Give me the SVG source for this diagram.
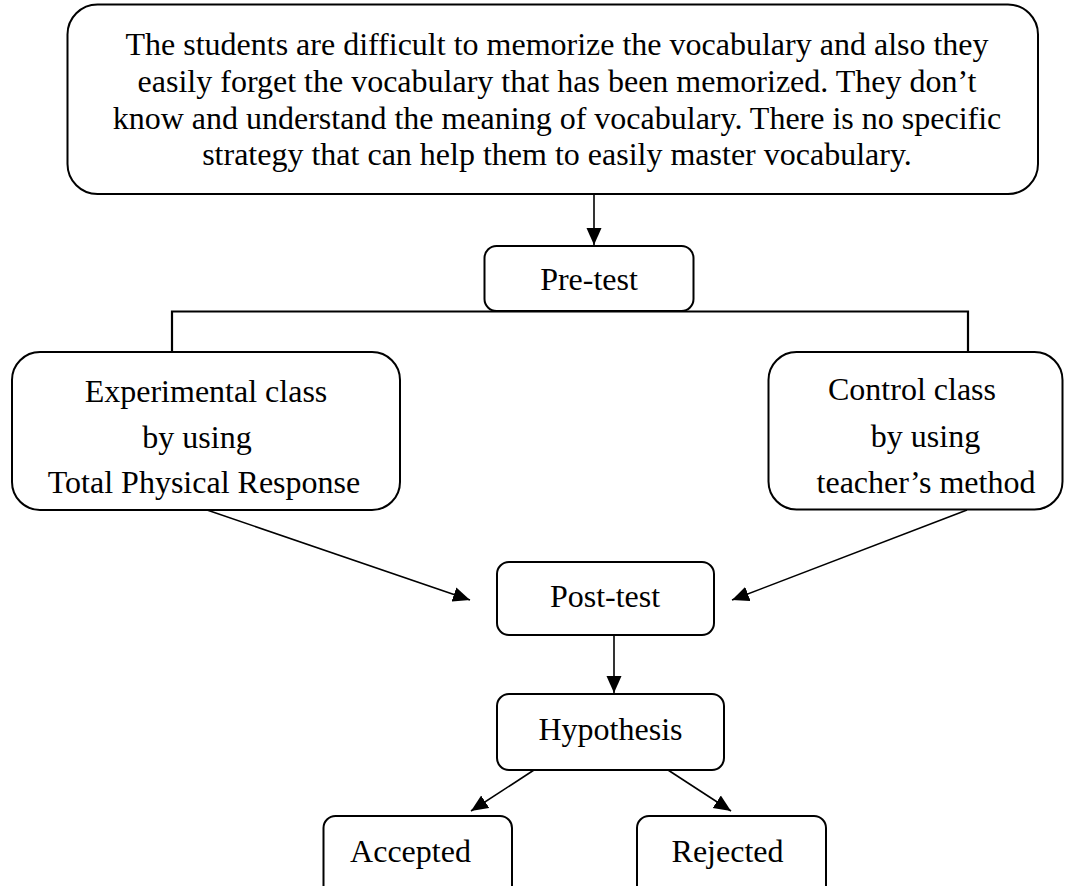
<svg xmlns="http://www.w3.org/2000/svg" width="1065" height="886" viewBox="0 0 1065 886">
<defs>
<style>
.box{fill:#fff;stroke:#000;stroke-width:2}
.t{font-family:"Liberation Serif","Times New Roman",serif;font-size:32px;fill:#000;text-anchor:middle}
.c{fill:none;stroke:#000;stroke-width:1.6}
</style>
<marker id="arr" markerUnits="userSpaceOnUse" markerWidth="17" markerHeight="16" refX="17" refY="8" orient="auto" viewBox="0 0 17 16">
<path d="M0,0.5 L17,8 L0,15.5 z" fill="#000"/>
</marker>
</defs>
<rect width="1065" height="886" fill="#fff"/>
<g id="connectors">
<line class="c" x1="594" y1="194" x2="594" y2="245" marker-end="url(#arr)"/>
<path class="c" d="M172,352 V311.5 H968 V352" style="stroke-width:2.2"/>
<line class="c" x1="207" y1="510" x2="470" y2="600" marker-end="url(#arr)"/>
<line class="c" x1="967" y1="510" x2="732" y2="600" marker-end="url(#arr)"/>
<line class="c" x1="614" y1="635" x2="614" y2="693" marker-end="url(#arr)"/>
<line class="c" x1="534" y1="770" x2="471" y2="811" marker-end="url(#arr)"/>
<line class="c" x1="668" y1="770" x2="731" y2="811" marker-end="url(#arr)"/>
</g>
<g id="problem">
<rect class="box" x="67.5" y="4.5" width="970.5" height="189.5" rx="30" ry="30"/>
<text class="t" x="557" y="54.5">The students are difficult to memorize the vocabulary and also they</text>
<text class="t" x="557" y="91.5">easily forget the vocabulary that has been memorized. They don’t</text>
<text class="t" x="557" y="128.5">know and understand the meaning of vocabulary. There is no specific</text>
<text class="t" x="557" y="165">strategy that can help them to easily master vocabulary.</text>
</g>
<g id="pretest">
<rect class="box" x="484.5" y="246" width="209" height="65" rx="12" ry="12"/>
<text class="t" x="589" y="290">Pre-test</text>
</g>
<g id="experimental">
<rect class="box" x="12" y="352" width="388" height="158" rx="28" ry="28"/>
<text class="t" x="206" y="401.5">Experimental class</text>
<text class="t" x="197" y="447.5">by using</text>
<text class="t" x="204" y="493">Total Physical Response</text>
</g>
<g id="control">
<rect class="box" x="768.5" y="352" width="294" height="157.5" rx="28" ry="28"/>
<text class="t" x="912" y="400">Control class</text>
<text class="t" x="925.5" y="446.5">by using</text>
<text class="t" x="926" y="492.5">teacher’s method</text>
</g>
<g id="posttest">
<rect class="box" x="497" y="562" width="217" height="73" rx="12" ry="12"/>
<text class="t" x="605" y="607">Post-test</text>
</g>
<g id="hypothesis">
<rect class="box" x="497" y="694" width="227" height="76" rx="12" ry="12"/>
<text class="t" x="610.5" y="740">Hypothesis</text>
</g>
<g id="accepted">
<rect class="box" x="323.5" y="816" width="188.5" height="100" rx="12" ry="12"/>
<text class="t" x="410.5" y="862">Accepted</text>
</g>
<g id="rejected">
<rect class="box" x="637" y="816" width="189" height="100" rx="12" ry="12"/>
<text class="t" x="727.5" y="862">Rejected</text>
</g>
</svg>
